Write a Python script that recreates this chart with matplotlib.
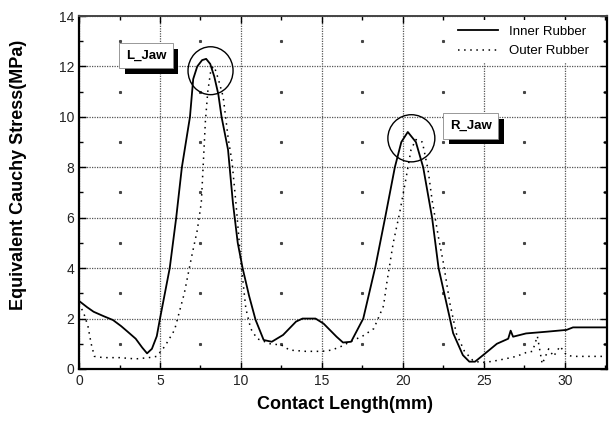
import numpy as np
import matplotlib
matplotlib.use("Agg")
from matplotlib import pyplot as plt
from matplotlib.patches import Ellipse
from matplotlib.ticker import MultipleLocator
from matplotlib import patheffects

# contact length (mm) / stress (MPa)
inner_x = [0, 0.5, 0.9, 1.5, 2.1, 2.6, 3.0, 3.5, 3.9, 4.2, 4.5, 4.8, 5.0, 5.3, 5.6,
           6.0, 6.35, 6.85, 7.05, 7.3, 7.6, 7.85, 8.1, 8.35, 8.6, 8.8, 9.2, 9.5,
           9.8, 10.1, 10.5, 10.9, 11.4, 11.9, 12.6, 13.4, 13.8, 14.6, 15.1, 15.9,
           16.3, 16.8, 17.55, 18.3, 18.9, 19.5, 19.9, 20.3, 20.8, 21.25, 21.8,
           22.2, 22.9, 23.1, 23.7, 24.1, 24.45, 24.95, 25.8, 26.5, 26.65, 26.8,
           27.6, 28.9, 30.1, 30.5, 32.6]
inner_y = [2.7, 2.45, 2.27, 2.1, 1.94, 1.7, 1.48, 1.2, 0.85, 0.62, 0.8, 1.3, 2.0,
           3.0, 4.0, 6.0, 8.0, 10.0, 11.5, 12.0, 12.25, 12.3, 12.1, 11.6, 10.9,
           10.0, 8.7, 6.6, 5.0, 4.0, 2.9, 1.95, 1.15, 1.08, 1.35, 1.88, 2.0, 2.0,
           1.8, 1.28, 1.05, 1.08, 2.0, 4.06, 6.0, 8.0, 9.0, 9.4, 9.0, 8.0, 6.0,
           4.0, 2.0, 1.42, 0.55, 0.29, 0.29, 0.55, 1.0, 1.2, 1.52, 1.28, 1.41,
           1.48, 1.55, 1.65, 1.65]

outer_x = [0, 0.3, 0.55, 0.75, 0.95, 1.5, 2.5, 3.5, 4.3, 4.8, 5.3, 5.9, 6.5,
           6.95, 7.3, 7.55, 7.7, 7.8, 7.95, 8.15, 8.35, 8.6, 8.9, 9.2, 9.45,
           9.7, 10.0, 10.3, 10.6, 11.0, 11.8, 12.5, 13.0, 14.0, 15.0, 15.6,
           16.2, 16.8, 17.5, 18.2, 18.8, 19.0, 19.4, 19.8, 20.2, 20.5, 20.8,
           21.2, 21.55, 21.8, 22.2, 22.5, 22.9, 23.3, 23.8, 24.3, 24.8, 25.5,
           26.3, 27.0, 27.6, 28.0, 28.3, 28.6, 29.0, 29.3, 29.7, 30.1, 30.5, 32.6]
outer_y = [2.6, 2.2, 1.7, 1.0, 0.5, 0.45, 0.45, 0.4, 0.45, 0.5, 0.9, 1.55, 3.0,
           4.45, 5.5, 6.6, 8.5, 9.8, 11.0, 11.9, 12.0, 11.5, 10.8, 9.2, 8.2,
           6.5, 4.2, 2.4, 1.6, 1.2, 1.0, 0.95, 0.75, 0.7, 0.7, 0.75, 0.9, 1.1,
           1.3, 1.6, 2.5, 3.4, 5.0, 6.2, 7.6, 8.7, 9.1, 9.0, 7.9, 6.7, 5.2, 4.2,
           2.6, 1.4, 0.7, 0.35, 0.25, 0.3, 0.4, 0.5, 0.65, 0.7, 1.3, 0.2, 0.8,
           0.5, 0.9, 0.55, 0.5, 0.5]

series_names = ["Inner Rubber", "Outer Rubber"]
jaw_labels = ["L_Jaw", "R_Jaw"]

plt.rcParams['font.family'] = ['Liberation Sans', 'DejaVu Sans']

fig = plt.figure(figsize=(6.15, 4.36), dpi=100)
ax = fig.add_axes([0.1285, 0.1537, 0.8585, 0.8096])

ax.set_xlim(0, 32.6)
ax.set_ylim(0, 14)
ax.xaxis.set_major_locator(MultipleLocator(5))
ax.xaxis.set_minor_locator(MultipleLocator(2.5))
ax.yaxis.set_major_locator(MultipleLocator(2))
ax.yaxis.set_minor_locator(MultipleLocator(1))

ax.grid(True, which='major', color='#555555', linestyle=(0, (1, 1)), linewidth=0.9)

# little dots where minor ticks cross
mx = [v for v in ax.xaxis.get_minorticklocs() if 0 < v < 32.6 and v % 5]
my = [v for v in ax.yaxis.get_minorticklocs() if 0 < v < 14 and v % 2]
gx, gy = np.meshgrid(mx, my)
ax.plot(gx.ravel(), gy.ravel(), ls='none', marker='s', ms=1.2, color='#444444', zorder=1)

ax.plot(inner_x, inner_y, color='black', lw=1.3, label=series_names[0], zorder=3)
ax.plot(outer_x, outer_y, color='black', lw=1.1, ls=(0, (1, 3)),
        label=series_names[1], zorder=3)

# circles round the two peaks
ax.add_patch(Ellipse((8.12, 11.83), 2.78, 1.9, fill=False, ec='black', lw=1.0, zorder=4))
ax.add_patch(Ellipse((20.52, 9.15), 2.9, 1.87, fill=False, ec='black', lw=1.0, zorder=4))

# labels in white boxes with a black drop shadow
for (tx, ty), lab in zip([(4.14, 12.42), (24.2, 9.64)], jaw_labels):
    t = ax.text(tx, ty, lab, ha='center', va='center', fontsize=9.5,
                fontweight='bold', color='black', zorder=6,
                bbox=dict(boxstyle='square,pad=0.5', fc='white', ec='#888888', lw=0.6))
    t.get_bbox_patch().set_path_effects([
        patheffects.SimplePatchShadow(offset=(4, -4), shadow_rgbFace='black', alpha=1),
        patheffects.Normal()])

leg = ax.legend(loc='upper right', bbox_to_anchor=(0.98, 0.995), fontsize=9.5,
                handlelength=3.0, labelspacing=0.55, frameon=True, fancybox=False,
                borderaxespad=0.2)
leg.get_frame().set_facecolor('white')
leg.get_frame().set_edgecolor('none')
leg.get_frame().set_alpha(1)

ax.tick_params(which='both', direction='in', top=True, right=True,
               labelsize=10, labelcolor='#222222')
ax.tick_params(which='major', length=5, width=1)
ax.tick_params(which='minor', length=3, width=1)

for side in ['left', 'bottom', 'right']:
    ax.spines[side].set_linewidth(1.6)
    ax.spines[side].set_color('black')
ax.spines['top'].set_linewidth(1.4)
ax.spines['top'].set_color('#444444')

ax.set_xlabel("Contact Length(mm)", fontsize=13, fontweight='bold')
ax.set_ylabel("Equivalent Cauchy Stress(MPa)", fontsize=13, fontweight='bold')
ax.xaxis.set_label_coords(0.504, -0.077)
ax.yaxis.set_label_coords(-0.098, 0.55)

fig.savefig("out.png", dpi=100)
